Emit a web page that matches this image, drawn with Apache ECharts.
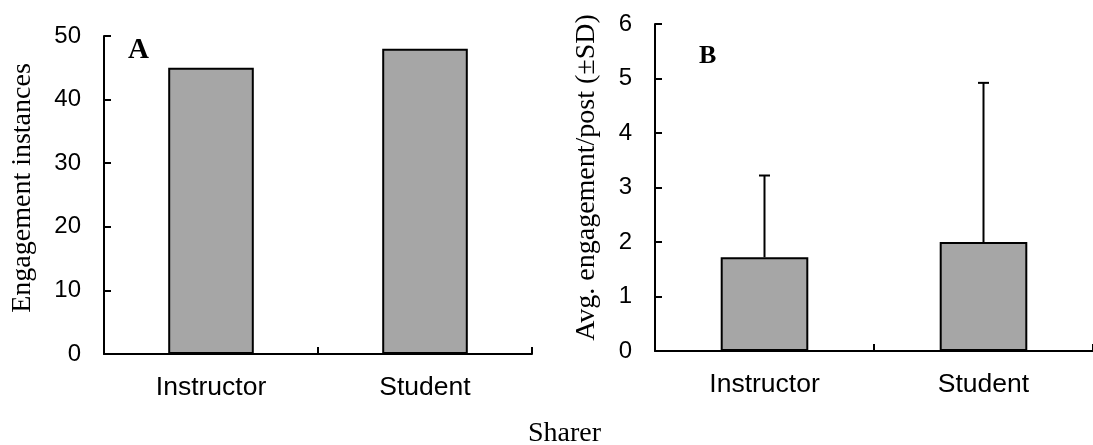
<!DOCTYPE html>
<html>
<head>
<meta charset="utf-8">
<script src="https://cdn.jsdelivr.net/npm/echarts@6/dist/echarts.min.js"></script>
<style>
html,body{margin:0;padding:0;background:#fff;}
#chart{width:1093px;height:445px;}
</style>
</head>
<body>
<div id="chart"></div>
<script>
// ---- data ----
var categories = ['Instructor', 'Student'];
var instances = [45, 48];
var avgEngagement = [1.72, 2.0];
var avgSD = [1.5, 2.92];
var yTicksA = [0, 10, 20, 30, 40, 50];
var yTicksB = [0, 1, 2, 3, 4, 5, 6];

var SANS = '"Liberation Sans", Arial, sans-serif';
var SERIF = '"Liberation Serif", "Times New Roman", serif';

var chart = echarts.init(document.getElementById('chart'));

function yAxisCfg(gridIndex, ticks, name, gap, shift) {
  return {
    type: 'value', gridIndex: gridIndex,
    min: ticks[0], max: ticks[ticks.length - 1], interval: ticks[1] - ticks[0],
    name: name, nameLocation: 'middle', nameRotate: 90, nameGap: gap,
    nameTextStyle: { fontFamily: SERIF, fontSize: 28, color: '#000', padding: [0, 0, 0, shift] },
    axisLine: { show: true, lineStyle: { color: '#000', width: 2 } },
    axisTick: { show: true, inside: true, length: 7, lineStyle: { color: '#000', width: 2 } },
    axisLabel: { fontFamily: SANS, fontSize: 24, color: '#000', margin: 23 },
    splitLine: { show: false }
  };
}
function xAxisCfg(gridIndex) {
  return {
    type: 'category', gridIndex: gridIndex, data: categories,
    axisLine: { show: true, lineStyle: { color: '#000', width: 2 } },
    axisTick: { show: true, inside: true, length: 7, lineStyle: { color: '#000', width: 2 } },
    axisLabel: { fontFamily: SANS, fontSize: 26.5, color: '#000', margin: 20 }
  };
}

var barStyle = { color: '#a6a6a6', borderColor: '#000', borderWidth: 2 };

function errorRender(params, api) {
  var v = api.value(1);
  var sd = api.value(2);
  var base = api.coord([api.value(0), v]);
  var top = api.coord([api.value(0), v + sd]);
  var half = 5.5;
  return {
    type: 'group',
    children: [
      { type: 'line', shape: { x1: base[0], y1: base[1], x2: top[0], y2: top[1] },
        style: { stroke: '#000', lineWidth: 2 } },
      { type: 'line', shape: { x1: top[0] - half, y1: top[1], x2: top[0] + half, y2: top[1] },
        style: { stroke: '#000', lineWidth: 2 } }
    ]
  };
}

var errData = categories.map(function (c, i) { return [i, avgEngagement[i], avgSD[i]]; });

chart.setOption({
  animation: false,
  backgroundColor: '#fff',
  grid: [
    { left: 104, top: 36, width: 428, height: 318 },
    { left: 655, top: 24, width: 445, height: 327 }
  ],
  xAxis: [xAxisCfg(0), xAxisCfg(1)],
  yAxis: [
    yAxisCfg(0, yTicksA, 'Engagement instances', 67, 14),
    yAxisCfg(1, yTicksB, 'Avg. engagement/post (\u00b1SD)', 54, 20)
  ],
  series: [
    { type: 'bar', xAxisIndex: 0, yAxisIndex: 0, data: instances, barWidth: '40%', itemStyle: barStyle },
    { type: 'custom', xAxisIndex: 1, yAxisIndex: 1, data: errData, renderItem: errorRender, z: 1 },
    { type: 'bar', xAxisIndex: 1, yAxisIndex: 1, data: avgEngagement, barWidth: '40%', itemStyle: barStyle, z: 3 }
  ],
  graphic: [
    { type: 'text', left: 128, top: 36, style: { text: 'A', font: 'bold 29px ' + SERIF, fill: '#000' } },
    { type: 'text', left: 699, top: 43, style: { text: 'B', font: 'bold 26px ' + SERIF, fill: '#000' } },
    { type: 'text', left: 528, top: 420, style: { text: 'Sharer', font: '28px ' + SERIF, fill: '#000' } }
  ]
});
</script>
</body>
</html>
